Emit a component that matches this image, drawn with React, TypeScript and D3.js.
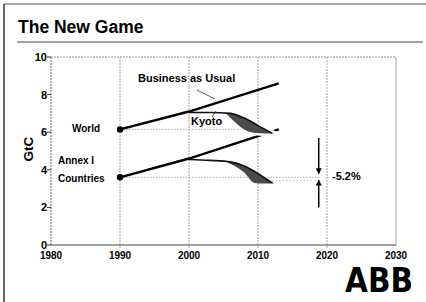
import React from "react";
import { scaleLinear, line, area, curveMonotoneX } from "d3";

const xTicks = [1980, 1990, 2000, 2010, 2020, 2030];
const yTicks = [0, 2, 4, 6, 8, 10];

// business as usual lines
const bauYears = [1990, 2000, 2013];
const worldBau = [6.15, 7.1, 8.6];
const annexBau = [3.6, 4.6, 6.15];

// kyoto paths
const kyotoYears = [2000, 2003, 2006, 2008, 2010, 2012];
const worldKyoto = [7.05, 7.05, 7.0, 6.75, 6.35, 5.95];
const annexKyoto = [4.55, 4.5, 4.42, 4.2, 3.8, 3.3];

// shaded reductions
const shadeYears = [2005.5, 2008, 2009.5, 2011, 2012.3];
const worldShadeTop = [7.02, 6.75, 6.5, 6.15, 5.95];
const worldShadeLow = [6.95, 6.15, 5.97, 5.93, 5.93];
const annexShadeTop = [4.45, 4.2, 3.95, 3.6, 3.3];
const annexShadeLow = [4.4, 3.85, 3.3, 3.27, 3.27];

const world1990 = 6.15;
const annex1990 = 3.6;
const annexTarget = 3.42;
const arrowYear = 2018.8;

const font = "'Liberation Sans', Arial, sans-serif";

const App = () => {
  const width = 426;
  const height = 302;

  const x = scaleLinear().domain([1980, 2030]).range([51, 396]);
  const y = scaleLinear().domain([0, 10]).range([245, 57]);

  const toPts = (ys: number[], vs: number[]) => ys.map((yr, i) => [yr, vs[i]] as [number, number]);

  const straight = line<[number, number]>()
    .x((d) => x(d[0]))
    .y((d) => y(d[1]));
  const smooth = line<[number, number]>()
    .x((d) => x(d[0]))
    .y((d) => y(d[1]))
    .curve(curveMonotoneX);
  const shade = (top: number[], low: number[]) =>
    area<number>()
      .x((yr) => x(yr))
      .y0((_, i) => y(low[i]))
      .y1((_, i) => y(top[i]))
      .curve(curveMonotoneX)(shadeYears);

  return (
    <svg
      width={width}
      height={height}
      style={{ position: "fixed", left: 0, top: 0, background: "#fff" }}
      fontFamily={font}
    >
      {/* slide frame */}
      <line x1={4} x2={4} y1={4} y2={height} stroke="#333" strokeWidth={1.5} />
      <line x1={4} x2={width} y1={4} y2={4} stroke="#555" strokeWidth={1} />
      <text x={18} y={33} fontSize={17.5} fontWeight="bold">
        The New Game
      </text>
      <line x1={17} x2={423} y1={42} y2={42} stroke="#444" strokeWidth={1} />

      {/* grid */}
      {xTicks.slice(1).map((t) => (
        <line
          key={t}
          x1={x(t)}
          x2={x(t)}
          y1={y(10)}
          y2={y(0) + (t < 2030 ? 4 : 0)}
          stroke="#888"
          strokeWidth={0.8}
          strokeDasharray={t === 2030 ? "" : "2,1"}
        />
      ))}
      <line x1={x(1980)} x2={x(2030)} y1={y(10)} y2={y(10)} stroke="#777" strokeWidth={0.8} strokeDasharray="2,1" />
      <line x1={x(1980)} x2={x(1980)} y1={y(10)} y2={y(0)} stroke="#555" strokeWidth={0.9} strokeDasharray="2,1" />
      <line x1={x(1980)} x2={x(2030)} y1={y(0)} y2={y(0)} stroke="#444" strokeWidth={1} />

      {/* y axis */}
      {yTicks.map((t) => (
        <g key={t}>
          <line x1={x(1980) - 4} x2={x(1980)} y1={y(t)} y2={y(t)} stroke="#333" />
          <text x={x(1980) - 4} y={y(t) + 4} fontSize={11} fontWeight="bold" textAnchor="end">
            {t}
          </text>
        </g>
      ))}
      {xTicks.map((t) => (
        <text key={t} x={x(t)} y={259} fontSize={10} fontWeight="bold" textAnchor="middle">
          {t}
        </text>
      ))}
      <text
        transform={`translate(33,${y(5.1)}) rotate(-90)`}
        fontSize={13.5}
        fontWeight="bold"
        textAnchor="middle"
      >
        GtC
      </text>

      {/* 1990 reference levels */}
      <line x1={x(1990)} x2={x(2009)} y1={y(world1990)} y2={y(world1990)} stroke="#999" strokeWidth={0.8} strokeDasharray="1.5,1.5" />
      <line x1={x(1990)} x2={x(arrowYear)} y1={y(annex1990)} y2={y(annex1990)} stroke="#999" strokeWidth={0.8} strokeDasharray="1.5,1.5" />
      <line x1={x(2010)} x2={x(arrowYear)} y1={y(annexTarget)} y2={y(annexTarget)} stroke="#aaa" strokeWidth={0.8} strokeDasharray="1.5,2" />

      {/* BAU lines */}
      <path d={straight(toPts(bauYears, worldBau)) ?? ""} fill="none" stroke="#000" strokeWidth={2.4} />
      <path d={straight(toPts(bauYears, annexBau)) ?? ""} fill="none" stroke="#000" strokeWidth={2.4} />

      {/* kyoto */}
      <path d={shade(worldShadeTop, worldShadeLow) ?? ""} fill="#fff" stroke="#fff" strokeWidth={5} />
      <path d={shade(worldShadeTop, worldShadeLow) ?? ""} fill="#4a4a4a" />
      <path d={smooth(toPts(kyotoYears, worldKyoto)) ?? ""} fill="none" stroke="#111" strokeWidth={1.6} />
      <path d={shade(annexShadeTop, annexShadeLow) ?? ""} fill="#4a4a4a" />
      <path d={smooth(toPts(kyotoYears, annexKyoto)) ?? ""} fill="none" stroke="#111" strokeWidth={1.6} />

      <circle cx={x(1990)} cy={y(world1990)} r={3.2} fill="#000" />
      <circle cx={x(1990)} cy={y(annex1990)} r={3.2} fill="#000" />

      {/* labels */}
      <text x={138} y={82} fontSize={11} fontWeight="bold">
        Business as Usual
      </text>
      <line x1={197} x2={215} y1={90} y2={99} stroke="#333" strokeWidth={0.8} />
      <text x={191} y={125} fontSize={11} fontWeight="bold">
        Kyoto
      </text>
      <line x1={212} x2={216} y1={117} y2={111} stroke="#333" strokeWidth={0.8} />
      <text x={72} y={132} fontSize={10} fontWeight="bold">
        World
      </text>
      <text x={58} y={164} fontSize={10} fontWeight="bold">
        Annex I
      </text>
      <text x={58} y={182} fontSize={10} fontWeight="bold">
        Countries
      </text>

      {/* -5.2% arrows */}
      <defs>
        <marker id="ah" viewBox="0 0 10 10" refX={9} refY={5} markerWidth={4} markerHeight={5} orient="auto">
          <path d="M0,0 L10,5 L0,10 z" fill="#000" />
        </marker>
      </defs>
      <line x1={x(arrowYear)} x2={x(arrowYear)} y1={y(5.7)} y2={y(3.8)} stroke="#000" strokeWidth={1.5} markerEnd="url(#ah)" />
      <line x1={x(arrowYear)} x2={x(arrowYear)} y1={y(2.0)} y2={y(3.45)} stroke="#000" strokeWidth={1.5} markerEnd="url(#ah)" />
      <text x={332} y={180} fontSize={11} fontWeight="bold">
        -5.2%
      </text>

      {/* logo */}
      <text x={345} y={292} fontSize={33} fontWeight="900" textLength={68} lengthAdjust="spacingAndGlyphs" fontFamily="'DejaVu Sans', Arial, sans-serif">
        ABB
      </text>
    </svg>
  );
};

export default App;
